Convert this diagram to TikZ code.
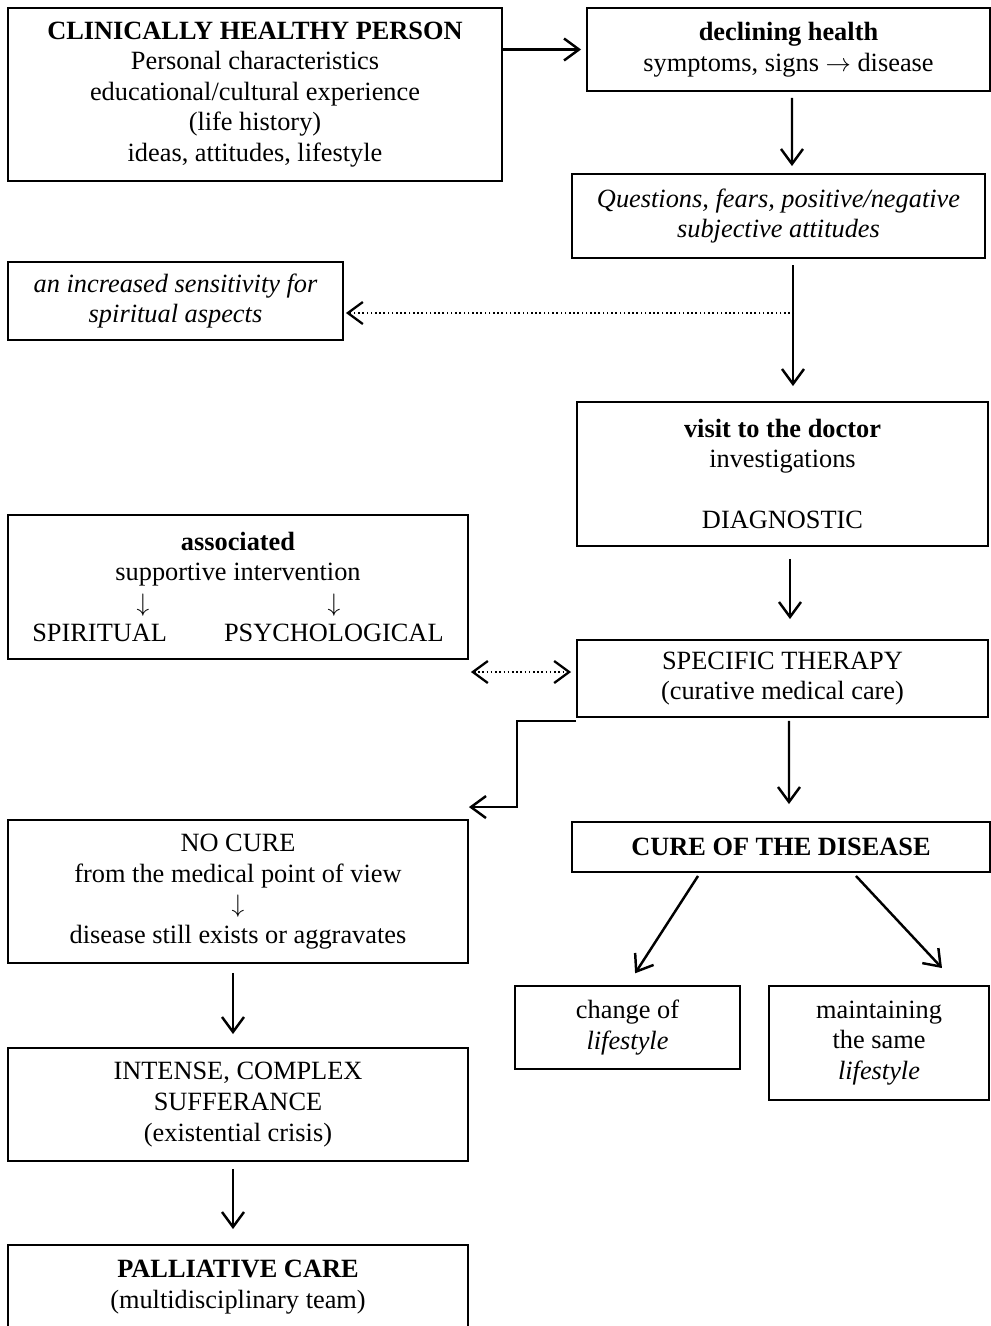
\documentclass[tikz,border=0pt]{standalone}
\usepackage{fontspec}
\setmainfont{Liberation Serif}
\usetikzlibrary{arrows.meta}

\tikzset{
  box/.style={draw, line width=1.1pt, align=center, inner sep=0pt,
    font=\fontsize{15}{17.4}\selectfont},
  arr/.style={line width=1.4pt, -{Straight Barb[length=0.3cm,width=0.44cm]}},
  dots/.style={line width=1.3pt, dash pattern=on 0.9pt off 1.5pt}
}

\begin{document}
\begin{tikzpicture}[x=0.02cm, y=-0.02cm]
		%%%%% START %%%%%
		\useasboundingbox (0,0) rectangle (991,1326);
		
		% right column
		\node[box, minimum width=9.88cm, minimum height=3.46cm] (healthy) at (255,94.5)
			{\textbf{CLINICALLY HEALTHY PERSON}\\Personal characteristics\\educational/cultural experience\\(life history)\\ideas, attitudes, lifestyle};
		\node[box, minimum width=8.06cm, minimum height=1.66cm] (declining) at (788.5,49.5)
			{\textbf{declining health}\\symptoms, signs $\rightarrow$ disease};
		\node[box, minimum width=8.26cm, minimum height=1.68cm] (questions) at (778.5,216)
			{\itshape Questions, fears, positive/negative\\\itshape subjective attitudes};
		\node[box, minimum width=6.7cm, minimum height=1.56cm] (sensitivity) at (175.5,301)
			{\itshape an increased sensitivity for\\\itshape spiritual aspects};
		\node[box, minimum width=8.22cm, minimum height=2.88cm] (doctor) at (782.5,474)
			{\textbf{visit to the doctor}\\investigations\\[17.4pt]DIAGNOSTIC};
		\node[box, minimum width=9.2cm, minimum height=2.88cm] (associated) at (238,587)
			{\textbf{associated}\\supportive intervention\\
			\makebox[8.24cm][l]{\hspace{2.22cm}\makebox[0pt]{$\downarrow$}\hspace{3.82cm}\makebox[0pt]{$\downarrow$}}\\
			SPIRITUAL\hspace{1.14cm}PSYCHOLOGICAL};
		\node[box, minimum width=8.22cm, minimum height=1.54cm] (specific) at (782.5,678.5)
			{SPECIFIC THERAPY\\(curative medical care)};
		\node[box, minimum width=8.36cm, minimum height=1.0cm] (cure) at (781,847)
			{\textbf{CURE OF THE DISEASE}};
		\node[box, minimum width=4.5cm, minimum height=1.66cm] (change) at (627.5,1027.5)
			{change of\\\textit{lifestyle}};
		\node[box, minimum width=4.4cm, minimum height=2.28cm] (maintaining) at (879,1043)
			{maintaining\\the same\\\textit{lifestyle}};
		
		% left column
		\node[box, minimum width=9.2cm, minimum height=2.86cm] (nocure) at (238,891.5)
			{NO CURE\\from the medical point of view\\$\downarrow$\\disease still exists or aggravates};
		\node[box, minimum width=9.2cm, minimum height=2.26cm] (intense) at (238,1104.5)
			{INTENSE, COMPLEX\\SUFFERANCE\\(existential crisis)};
		\node[box, minimum width=9.2cm, minimum height=1.68cm] (palliative) at (238,1287)
			{\textbf{PALLIATIVE CARE}\\(multidisciplinary team)};
		
		% connectors
		\draw[arr, shorten >=0.1cm] (healthy.east |- declining.west) -- (declining.west);
		\draw[arr, shorten <=0.12cm, shorten >=0.14cm] ([xshift=0.07cm]declining.south) -- ([xshift=0.27cm]questions.north);
		
		\coordinate (qa) at (793,258);
		\coordinate (qd) at (794,313);
		\draw[arr, shorten <=0.14cm, shorten >=0.3cm] (qa) -- (qa |- doctor.north);
		\draw[dots, arr, line width=1.3pt, shorten >=0.04cm] (qd) -- (sensitivity.east |- qd);
		
		\draw[arr, shorten <=0.24cm, shorten >=0.4cm] ([xshift=0.15cm]doctor.south) -- ([xshift=0.15cm]specific.north);
		
		\coordinate (sw) at ([yshift=0.13cm]specific.west);
		\draw[dots, {Straight Barb[length=0.3cm,width=0.44cm]}-{Straight Barb[length=0.3cm,width=0.44cm]}, shorten >=0.1cm, shorten <=0.04cm]
			(associated.east |- sw) -- (sw);
		
		\draw[arr] ([yshift=-0.06cm]specific.south west) -- ++(-1.18cm,0) |- ([yshift=0.24cm]nocure.north east);
		\draw[arr, shorten <=0.06cm, shorten >=0.34cm] ([xshift=0.13cm]specific.south) -- ([xshift=0.16cm]cure.north);
		
		\draw[arr, shorten >=0.28cm] ([xshift=-1.66cm, yshift=-0.06cm]cure.south) -- (change.north);
		\draw[arr] ([xshift=1.5cm, yshift=-0.06cm]cure.south) -- ([xshift=1.26cm, yshift=0.34cm]maintaining.north);
		
		\draw[arr, shorten <=0.18cm, shorten >=0.26cm] ([xshift=-0.1cm]nocure.south) -- ([xshift=-0.1cm]intense.north);
		\draw[arr, shorten <=0.14cm, shorten >=0.3cm] ([xshift=-0.1cm]intense.south) -- ([xshift=-0.1cm]palliative.north);
		
		%%%%% END %%%%%
\end{tikzpicture}
\end{document}
